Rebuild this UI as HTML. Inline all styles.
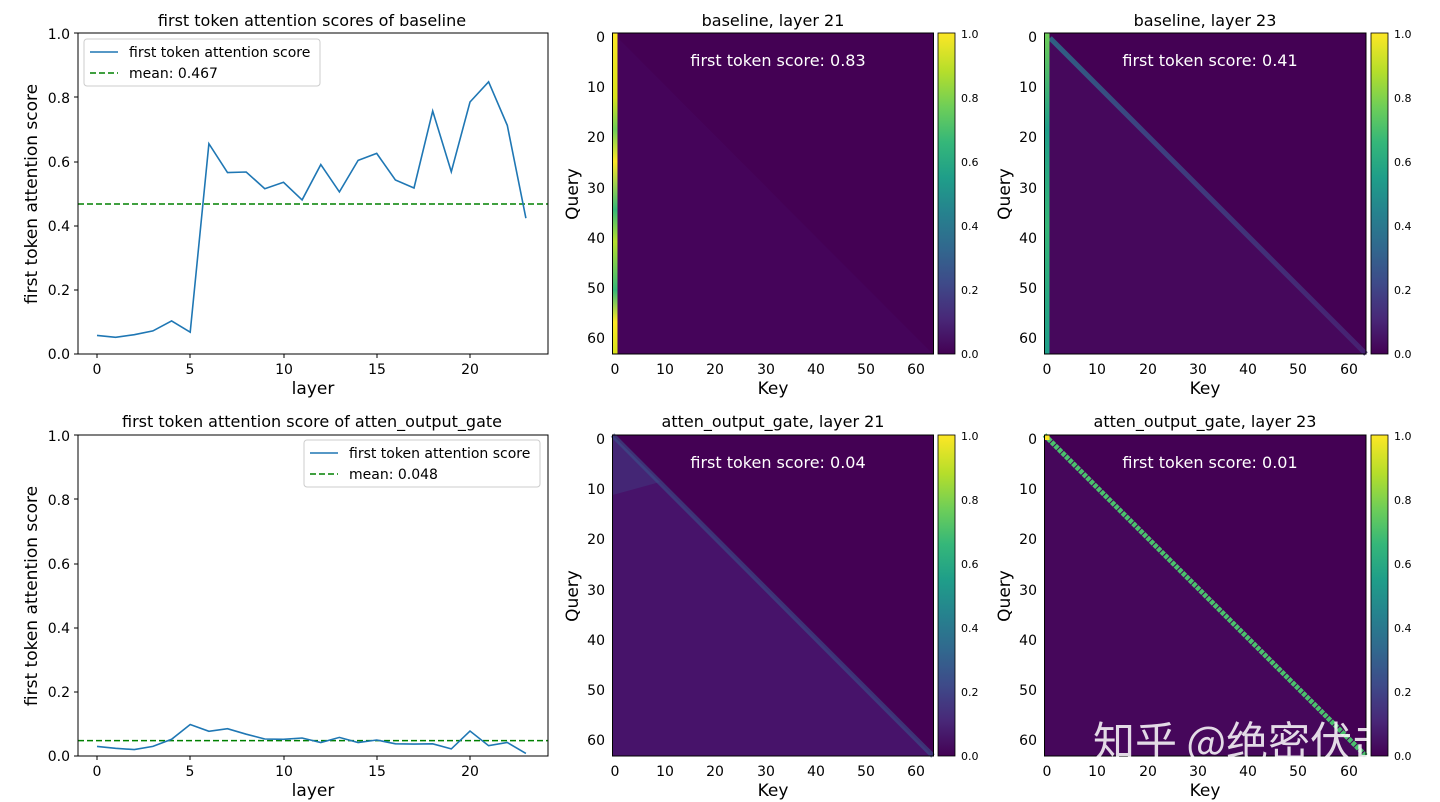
<!DOCTYPE html>
<html><head><meta charset="utf-8"><style>
body{margin:0;background:#fff}
svg{display:block;font-family:"DejaVu Sans","Liberation Sans","Noto Sans CJK SC",sans-serif}
.t{font-size:14px;fill:#000}
.ti{font-size:16px;fill:#000}
.al{font-size:17px;fill:#000}
.cb{font-size:11px;fill:#000}
</style></head><body>
<svg width="1440" height="802" viewBox="0 0 1440 802">
<defs>
<linearGradient id="vir" x1="0" y1="1" x2="0" y2="0">
<stop offset="0" stop-color="#440154"/><stop offset="0.11" stop-color="#482878"/><stop offset="0.22" stop-color="#3e4a89"/><stop offset="0.33" stop-color="#31688e"/><stop offset="0.44" stop-color="#26828e"/><stop offset="0.55" stop-color="#1f9e89"/><stop offset="0.66" stop-color="#35b779"/><stop offset="0.77" stop-color="#6ece58"/><stop offset="0.88" stop-color="#b5de2b"/><stop offset="1" stop-color="#fde725"/>
</linearGradient>
<linearGradient id="col1" x1="0" y1="0" x2="0" y2="1">
<stop offset="0" stop-color="#fde725"/><stop offset="0.2" stop-color="#d8e219"/><stop offset="0.3" stop-color="#6ece58"/><stop offset="0.4" stop-color="#fde725"/><stop offset="0.55" stop-color="#35b779"/><stop offset="0.65" stop-color="#b5de2b"/><stop offset="0.8" stop-color="#35b779"/><stop offset="0.9" stop-color="#fde725"/><stop offset="1" stop-color="#d8e219"/>
</linearGradient>
<linearGradient id="col2" x1="0" y1="0" x2="0" y2="1">
<stop offset="0" stop-color="#6ece58"/><stop offset="0.3" stop-color="#1f9e89"/><stop offset="0.6" stop-color="#35b779"/><stop offset="1" stop-color="#1f9e89"/>
</linearGradient>
<linearGradient id="diagf" x1="0" y1="0" x2="1" y2="1">
<stop offset="0" stop-color="#2a788e"/><stop offset="0.3" stop-color="#3b528b"/><stop offset="1" stop-color="#482878"/>
</linearGradient>
</defs>

<g>
<text class="ti" x="312" y="26" text-anchor="middle">first token attention scores of baseline</text>
<line x1="78" y1="204" x2="548" y2="204" stroke="#008000" stroke-width="1.5" stroke-dasharray="6,3"/>
<polyline fill="none" stroke="#1f77b4" stroke-width="1.6" points="97,335.4 115.6,337.3 134.3,334.7 152.9,330.9 171.6,320.9 190.2,332.2 208.9,143.7 227.5,172.6 246.2,172 264.8,188.7 283.5,182.3 302.1,199.9 320.8,164.6 339.4,191.9 358.1,160.4 376.7,153.4 395.4,180 414,188 432.7,111 451.3,171.7 470,102 488.6,81.8 507.3,125.4 525.9,218.2"/>
<rect x="78" y="33" width="470" height="321" fill="none" stroke="#000" stroke-width="1"/>
<g class="t" text-anchor="end">
<text x="70" y="359">0.0</text><text x="70" y="295">0.2</text><text x="70" y="231">0.4</text><text x="70" y="167">0.6</text><text x="70" y="103">0.8</text><text x="70" y="39">1.0</text></g>
<g stroke="#000"><line x1="74" y1="354" x2="78" y2="354"/><line x1="74" y1="290" x2="78" y2="290"/><line x1="74" y1="226" x2="78" y2="226"/><line x1="74" y1="162" x2="78" y2="162"/><line x1="74" y1="97" x2="78" y2="97"/><line x1="74" y1="33" x2="78" y2="33"/>
<line x1="97" y1="354" x2="97" y2="358"/><line x1="190" y1="354" x2="190" y2="358"/><line x1="284" y1="354" x2="284" y2="358"/><line x1="377" y1="354" x2="377" y2="358"/><line x1="470" y1="354" x2="470" y2="358"/></g>
<g class="t" text-anchor="middle"><text x="97" y="374">0</text><text x="190" y="374">5</text><text x="284" y="374">10</text><text x="377" y="374">15</text><text x="470" y="374">20</text></g>
<text class="al" x="313" y="394" text-anchor="middle">layer</text>
<text class="al" transform="translate(37,194) rotate(-90)" text-anchor="middle">first token attention score</text>
<rect x="84" y="39" width="236" height="47" rx="3" fill="#fff" stroke="#ccc"/>
<line x1="90" y1="52" x2="118" y2="52" stroke="#1f77b4" stroke-width="1.6"/>
<line x1="90" y1="73" x2="118" y2="73" stroke="#008000" stroke-width="1.5" stroke-dasharray="6,3"/>
<text class="t" x="129" y="57">first token attention score</text>
<text class="t" x="129" y="78">mean: 0.467</text>
</g>

<g>
<text class="ti" x="312" y="427" text-anchor="middle">first token attention score of atten_output_gate</text>
<line x1="78" y1="740.6" x2="548" y2="740.6" stroke="#008000" stroke-width="1.5" stroke-dasharray="6,3"/>
<polyline fill="none" stroke="#1f77b4" stroke-width="1.6" points="97,746.4 115.6,748.3 134.3,749.6 152.9,746.4 171.6,739.3 190.2,724.5 208.9,731.3 227.5,728.7 246.2,734.2 264.8,739 283.5,739.3 302.1,738 320.8,742.5 339.4,737.4 358.1,742.5 376.7,740 395.4,743.8 414,744.1 432.7,743.8 451.3,748.9 470,731 488.6,745.7 507.3,742.5 525.9,753.4"/>
<rect x="78" y="435" width="470" height="321" fill="none" stroke="#000"/>
<g class="t" text-anchor="end">
<text x="70" y="761">0.0</text><text x="70" y="697">0.2</text><text x="70" y="633">0.4</text><text x="70" y="569">0.6</text><text x="70" y="505">0.8</text><text x="70" y="441">1.0</text></g>
<g stroke="#000"><line x1="74" y1="756" x2="78" y2="756"/><line x1="74" y1="692" x2="78" y2="692"/><line x1="74" y1="628" x2="78" y2="628"/><line x1="74" y1="564" x2="78" y2="564"/><line x1="74" y1="499" x2="78" y2="499"/><line x1="74" y1="435" x2="78" y2="435"/>
<line x1="97" y1="756" x2="97" y2="760"/><line x1="190" y1="756" x2="190" y2="760"/><line x1="284" y1="756" x2="284" y2="760"/><line x1="377" y1="756" x2="377" y2="760"/><line x1="470" y1="756" x2="470" y2="760"/></g>
<g class="t" text-anchor="middle"><text x="97" y="776">0</text><text x="190" y="776">5</text><text x="284" y="776">10</text><text x="377" y="776">15</text><text x="470" y="776">20</text></g>
<text class="al" x="313" y="796" text-anchor="middle">layer</text>
<text class="al" transform="translate(37,596) rotate(-90)" text-anchor="middle">first token attention score</text>
<rect x="304" y="440" width="236" height="47" rx="3" fill="#fff" stroke="#ccc"/>
<line x1="310" y1="453" x2="338" y2="453" stroke="#1f77b4" stroke-width="1.6"/>
<line x1="310" y1="474" x2="338" y2="474" stroke="#008000" stroke-width="1.5" stroke-dasharray="6,3"/>
<text class="t" x="349" y="458">first token attention score</text>
<text class="t" x="349" y="479">mean: 0.048</text>
</g>

<g>
<text class="ti" x="773" y="26" text-anchor="middle">baseline, layer 21</text>
<rect x="612.5" y="33" width="321" height="321" fill="#440154"/>
<polygon points="618,38 933,354 618,354" fill="#45045a"/>
<rect x="612.5" y="33" width="5" height="321" fill="url(#col1)"/>
<text x="778" y="66" text-anchor="middle" style="font-size:16px;fill:#fff">first token score: 0.83</text>
</g>
<g>
<text class="ti" x="1205" y="26" text-anchor="middle">baseline, layer 23</text>
<rect x="1044.5" y="33" width="321.5" height="321" fill="#440154"/>
<polygon points="1050,38 1366,354 1050,354" fill="#46085c"/>
<line x1="1050" y1="38" x2="1366" y2="354" stroke="url(#diagf)" stroke-width="5" opacity="0.8"/>
<rect x="1044.5" y="33" width="5" height="321" fill="url(#col2)"/>
<text x="1210" y="66" text-anchor="middle" style="font-size:16px;fill:#fff">first token score: 0.41</text>
</g>
<g>
<text class="ti" x="773" y="427" text-anchor="middle">atten_output_gate, layer 21</text>
<rect x="612.5" y="435" width="321" height="321" fill="#440154"/>
<polygon points="612.5,435 933,756 612.5,756" fill="#47136a"/>
<polygon points="612.5,435 660,482 612.5,495" fill="#3e4a89" opacity="0.35"/>
<line x1="612.5" y1="435" x2="933" y2="756" stroke="#3b528b" stroke-width="5" opacity="0.6"/>
<text x="778" y="468" text-anchor="middle" style="font-size:16px;fill:#fff">first token score: 0.04</text>
</g>
<g>
<text class="ti" x="1205" y="427" text-anchor="middle">atten_output_gate, layer 23</text>
<rect x="1044.5" y="435" width="321.5" height="321" fill="#440154"/>
<polygon points="1044.5,435 1366,756 1044.5,756" fill="#46075b"/>
<line x1="1044.5" y1="435" x2="1366" y2="756" stroke="#4ac16d" stroke-width="5" stroke-dasharray="4,1"/>
<rect x="1044.5" y="435" width="5" height="5" fill="#fde725"/>
<text x="1210" y="468" text-anchor="middle" style="font-size:16px;fill:#fff">first token score: 0.01</text>
</g>

<g stroke="#000" fill="none">
<rect x="612.5" y="33" width="321" height="321"/><rect x="1044.5" y="33" width="321.5" height="321"/>
<rect x="612.5" y="435" width="321" height="321"/><rect x="1044.5" y="435" width="321.5" height="321"/>
</g>
<text x="1093" y="757" style="font-size:42px;fill:#fff;opacity:0.85;font-family:'Noto Sans CJK SC',sans-serif">知乎 @绝密伏击</text>
<g class="t" text-anchor="middle">
<text x="615" y="374">0</text><text x="665" y="374">10</text><text x="715" y="374">20</text><text x="766" y="374">30</text><text x="816" y="374">40</text><text x="866" y="374">50</text><text x="916" y="374">60</text>
<text x="1047" y="374">0</text><text x="1097" y="374">10</text><text x="1148" y="374">20</text><text x="1198" y="374">30</text><text x="1248" y="374">40</text><text x="1298" y="374">50</text><text x="1349" y="374">60</text>
<text x="615" y="776">0</text><text x="665" y="776">10</text><text x="715" y="776">20</text><text x="766" y="776">30</text><text x="816" y="776">40</text><text x="866" y="776">50</text><text x="916" y="776">60</text>
<text x="1047" y="776">0</text><text x="1097" y="776">10</text><text x="1148" y="776">20</text><text x="1198" y="776">30</text><text x="1248" y="776">40</text><text x="1298" y="776">50</text><text x="1349" y="776">60</text>
</g>
<g class="t" text-anchor="end">
<text x="605" y="42">0</text><text x="605" y="92">10</text><text x="605" y="142">20</text><text x="605" y="193">30</text><text x="605" y="243">40</text><text x="605" y="293">50</text><text x="605" y="343">60</text>
<text x="1037" y="42">0</text><text x="1037" y="92">10</text><text x="1037" y="142">20</text><text x="1037" y="193">30</text><text x="1037" y="243">40</text><text x="1037" y="293">50</text><text x="1037" y="343">60</text>
<text x="605" y="444">0</text><text x="605" y="494">10</text><text x="605" y="544">20</text><text x="605" y="595">30</text><text x="605" y="645">40</text><text x="605" y="695">50</text><text x="605" y="745">60</text>
<text x="1037" y="444">0</text><text x="1037" y="494">10</text><text x="1037" y="544">20</text><text x="1037" y="595">30</text><text x="1037" y="645">40</text><text x="1037" y="695">50</text><text x="1037" y="745">60</text>
</g>
<g class="al" text-anchor="middle">
<text x="773" y="394">Key</text><text x="1205" y="394">Key</text><text x="773" y="796">Key</text><text x="1205" y="796">Key</text>
<text transform="translate(578,194) rotate(-90)">Query</text><text transform="translate(1010,194) rotate(-90)">Query</text>
<text transform="translate(578,596) rotate(-90)">Query</text><text transform="translate(1010,596) rotate(-90)">Query</text>
</g>

<g>
<rect x="938" y="33" width="17" height="321" fill="url(#vir)" stroke="#000" stroke-width="0.8"/>
<rect x="1371" y="33" width="17" height="321" fill="url(#vir)" stroke="#000" stroke-width="0.8"/>
<rect x="938" y="435" width="17" height="321" fill="url(#vir)" stroke="#000" stroke-width="0.8"/>
<rect x="1371" y="435" width="17" height="321" fill="url(#vir)" stroke="#000" stroke-width="0.8"/>
</g>
<g class="cb">
<text x="961" y="358">0.0</text><text x="961" y="294">0.2</text><text x="961" y="230">0.4</text><text x="961" y="166">0.6</text><text x="961" y="102">0.8</text><text x="961" y="38">1.0</text>
<text x="1394" y="358">0.0</text><text x="1394" y="294">0.2</text><text x="1394" y="230">0.4</text><text x="1394" y="166">0.6</text><text x="1394" y="102">0.8</text><text x="1394" y="38">1.0</text>
<text x="961" y="760">0.0</text><text x="961" y="696">0.2</text><text x="961" y="632">0.4</text><text x="961" y="568">0.6</text><text x="961" y="504">0.8</text><text x="961" y="440">1.0</text>
<text x="1394" y="760">0.0</text><text x="1394" y="696">0.2</text><text x="1394" y="632">0.4</text><text x="1394" y="568">0.6</text><text x="1394" y="504">0.8</text><text x="1394" y="440">1.0</text>
</g>
</svg>
</body></html>
